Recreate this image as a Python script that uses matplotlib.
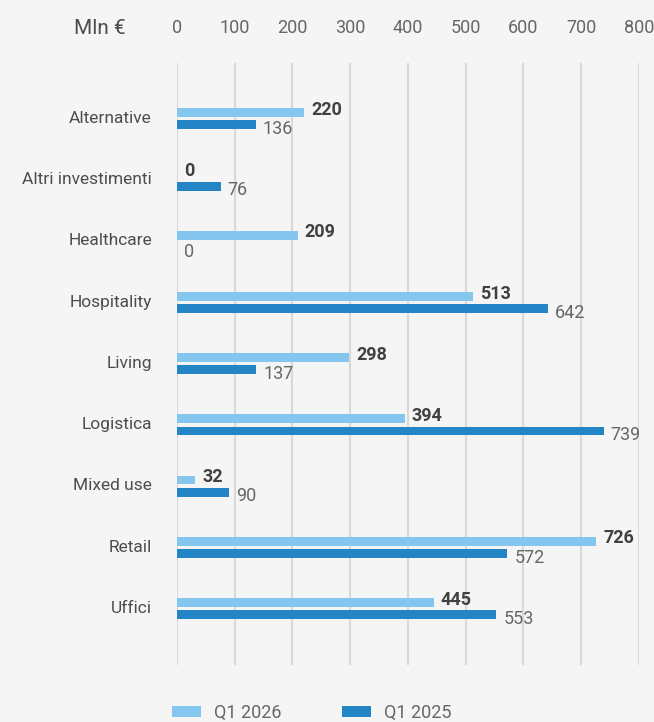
import numpy as np
import matplotlib.pyplot as plt

categories = ['Alternative', 'Altri investimenti', 'Healthcare', 'Hospitality',
              'Living', 'Logistica', 'Mixed use', 'Retail', 'Uffici']
q1_2026 = [220, 0, 209, 513, 298, 394, 32, 726, 445]
q1_2025 = [136, 76, 0, 642, 137, 739, 90, 572, 553]
ticks = [0, 100, 200, 300, 400, 500, 600, 700, 800]

bg = '#f5f5f5'
light = '#85c6ef'
dark = '#2385c6'

plt.rcParams['font.family'] = ['Roboto', 'DejaVu Sans']

fig = plt.figure(figsize=(6.54, 7.22), dpi=100, facecolor=bg)
ax = fig.add_axes([0.2706, 0.079, 0.7064, 0.8337], facecolor=bg)

y = np.arange(len(categories))
h = 0.145
off = 0.1
shift = 0.03
ax.barh(y - off + shift, q1_2026, height=h, color=light, label='Q1 2026', zorder=3)
ax.barh(y + off + shift, q1_2025, height=h, color=dark, label='Q1 2025', zorder=3)

for i in range(len(categories)):
    ax.annotate(str(q1_2026[i]), (q1_2026[i], y[i] - off + shift), xytext=(5, 2),
                textcoords='offset points', ha='left', va='center',
                fontsize=13, fontweight='bold', color='#404040')
    ax.annotate(str(q1_2025[i]), (q1_2025[i], y[i] + off + shift), xytext=(5, -3),
                textcoords='offset points', ha='left', va='center',
                fontsize=13, color='#666666')

ax.set_xlim(0, 800)
ax.set_ylim(len(categories) - 1 + 0.95, -0.88)
ax.set_xticks(ticks)
ax.xaxis.tick_top()
ax.tick_params(axis='x', length=0, pad=19, labelsize=13, labelcolor='#666666')
ax.set_yticks(y)
ax.set_yticklabels(categories)
ax.tick_params(axis='y', length=0, pad=18, labelsize=12.5, labelcolor='#4d4d4d')
ax.grid(axis='x', color='#d9d9d9', linewidth=1.5, zorder=0)
for s in ax.spines.values():
    s.set_visible(False)

fig.text(0.153, 0.96, 'Mln €', fontsize=15, color='#4d4d4d', ha='center', va='center')

handles, labels = ax.get_legend_handles_labels()
fig.legend(handles, labels, loc='center left', bbox_to_anchor=(0.263, 1 - 713 / 722),
           ncol=2, frameon=False, fontsize=13, labelcolor='#666666',
           handlelength=1.6, handleheight=0.6, handletextpad=0.7, columnspacing=3.4,
           borderpad=0, borderaxespad=0)

plt.savefig('out.png', dpi=100, facecolor=bg)
